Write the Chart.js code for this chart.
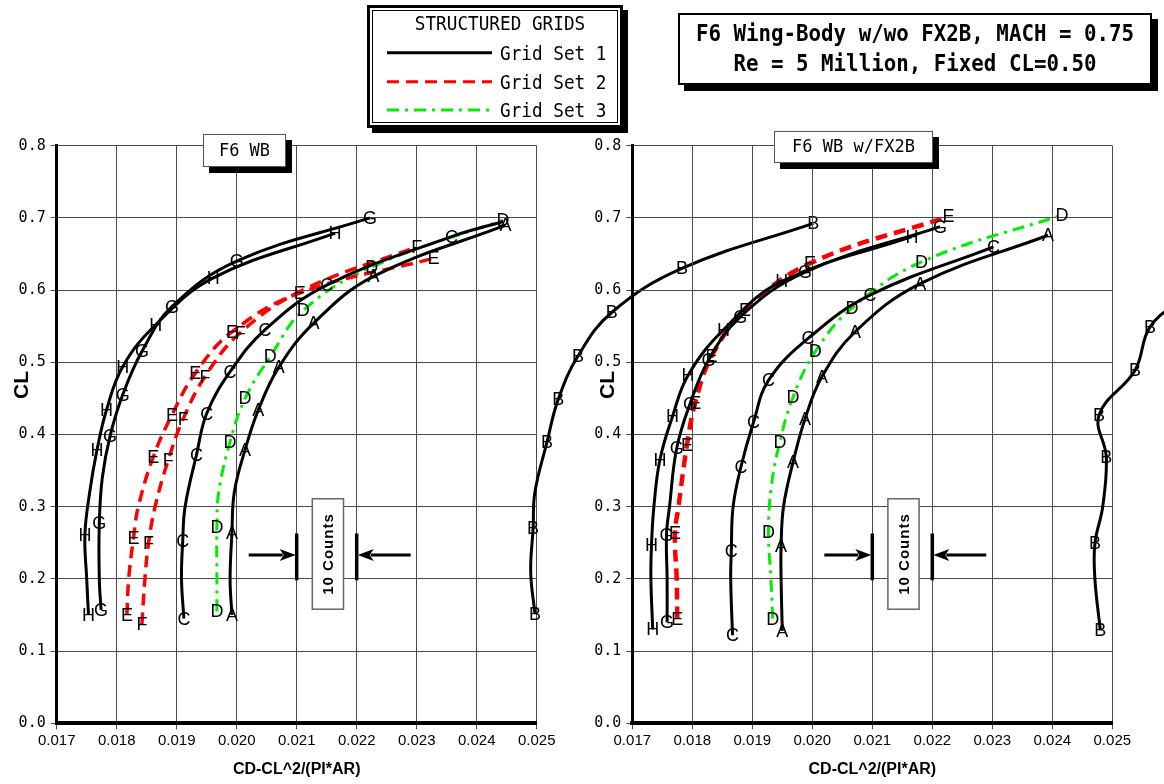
<!DOCTYPE html>
<html><head><meta charset="utf-8">
<script src="https://cdn.jsdelivr.net/npm/chart.js@4.4.1/dist/chart.umd.min.js"></script>
<style>
html,body{margin:0;padding:0;background:#fff;}
#wrap{position:relative;width:1164px;height:784px;overflow:hidden;background:#fff;}
canvas{position:absolute;left:0;top:0;}
.bx{position:absolute;box-sizing:border-box;background:#fff;}
.t{position:absolute;white-space:nowrap;color:#000;font-family:"DejaVu Sans Mono","Liberation Mono",monospace;}
#legend{left:367px;top:5px;width:256px;height:123px;border:3px solid #000;box-shadow:inset 0 0 0 2px #fff,inset 0 0 0 3px #000,5px 5px 0 #000;}
#title{left:678px;top:13px;width:474px;height:72px;border:2px solid #000;box-shadow:6px 6px 0 #000;}
.pl{border:1.5px solid #555;box-shadow:6px 6px 0 #000;text-align:center;font-family:"DejaVu Sans Mono","Liberation Mono",monospace;font-size:17px;color:#000;}
.yt{position:absolute;width:40px;height:26px;line-height:26px;text-align:center;font-family:"Liberation Sans",Arial,sans-serif;font-weight:bold;font-size:21px;transform:rotate(-90deg);color:#000;}
svg{position:absolute;left:0;top:0;}
</style></head>
<body><div id="wrap">
<canvas id="cLeft" width="1164" height="784"></canvas>
<canvas id="cRight" width="1164" height="784"></canvas>
<div class="yt" id="yLeft" style="left:1px;top:372px;"></div>
<div class="yt" id="yRight" style="left:587px;top:372px;"></div>
<div class="bx" id="legend"></div>
<div class="t" id="legTitle" style="left:380px;width:240px;top:12px;text-align:center;font-size:17.7px;line-height:22px;transform:scaleY(1.12);"></div>
<svg id="legSvg" width="1164" height="140"></svg>
<div class="bx" id="title"></div>
<div class="t" id="title1" style="left:678px;width:474px;top:20px;text-align:center;font-size:20.8px;line-height:26px;font-weight:bold;transform:scaleY(1.1);"></div>
<div class="t" id="title2" style="left:678px;width:474px;top:50px;text-align:center;font-size:20.8px;line-height:26px;font-weight:bold;transform:scaleY(1.1);"></div>
<div class="bx pl" id="pLeft" style="left:203px;top:134px;width:83px;height:33px;line-height:30px;"></div>
<div class="bx pl" id="pRight" style="left:774px;top:131px;width:159px;height:32px;line-height:29px;"></div>
</div>
<script>
// ---------- text ----------
const chartTitle = ['F6 Wing-Body w/wo FX2B, MACH = 0.75', 'Re = 5 Million, Fixed CL=0.50'];
const legendTitle = 'STRUCTURED GRIDS';
const gridSets = ['Grid Set 1', 'Grid Set 2', 'Grid Set 3'];
const panelTitles = ['F6 WB', 'F6 WB w/FX2B'];
const xTitle = 'CD-CL^2/(PI*AR)';
const yTitle = 'CL';
const countsText = '10 Counts';
const xTickVals = [0.017, 0.018, 0.019, 0.020, 0.021, 0.022, 0.023, 0.024, 0.025];
const yTickVals = [0.0, 0.1, 0.2, 0.3, 0.4, 0.5, 0.6, 0.7, 0.8];

// ---------- left panel: F6 WB ----------
const wbA_cd = [0.01992,0.01989,0.01992,0.01996,0.02014,0.02036,0.02070,0.02128,0.02228,0.02448];
const wbA_cl = [0.150,0.200,0.263,0.320,0.379,0.434,0.493,0.554,0.619,0.690];
const wbA_lb = ['A','','A','','A','A','A','A','A','A'];
const wbB_cd = [0.02497,0.02490,0.02494,0.02497,0.02517,0.02536,0.02569,0.02625,0.02742,0.02961];
const wbB_cl = [0.152,0.210,0.270,0.320,0.389,0.449,0.509,0.569,0.630,0.6925];
const wbB_lb = ['B','','B','','B','B','B','B','B','B'];
const wbC_cd = [0.01912,0.01908,0.01910,0.01914,0.01933,0.01950,0.01989,0.02047,0.02150,0.02358,0.02444];
const wbC_cl = [0.145,0.200,0.252,0.300,0.372,0.429,0.487,0.545,0.607,0.674,0.695];
const wbC_lb = ['C','','C','','C','C','C','C','C','C',''];
const wbD_cd = [0.01967,0.01967,0.01967,0.01970,0.01989,0.02014,0.02056,0.02111,0.02225,0.02444];
const wbD_cl = [0.155,0.200,0.272,0.320,0.390,0.450,0.508,0.572,0.632,0.697];
const wbD_lb = ['D','','D','','D','D','D','D','D','D'];
const wbE_cd = [0.01817,0.01820,0.01828,0.01836,0.01861,0.01892,0.01931,0.01992,0.02105,0.02328];
const wbE_cl = [0.150,0.200,0.257,0.300,0.369,0.427,0.485,0.542,0.596,0.644];
const wbE_lb = ['E','','E','','E','E','E','E','E','E'];
const wbF_cd = [0.01842,0.01847,0.01853,0.01864,0.01886,0.01911,0.01947,0.02006,0.02110,0.02300];
const wbF_cl = [0.137,0.200,0.249,0.300,0.365,0.422,0.480,0.541,0.600,0.660];
const wbF_lb = ['F','','F','','F','F','F','F','','F'];
const wbG_cd = [0.01774,0.01771,0.01771,0.01776,0.01789,0.01810,0.01842,0.01892,0.02000,0.02222];
const wbG_cl = [0.157,0.200,0.277,0.340,0.398,0.455,0.515,0.577,0.640,0.700];
const wbG_lb = ['G','','G','','G','G','G','G','G','G'];
const wbH_cd = [0.01753,0.01750,0.01747,0.01755,0.01767,0.01783,0.01810,0.01865,0.01961,0.02164];
const wbH_cl = [0.150,0.200,0.261,0.320,0.378,0.434,0.494,0.552,0.617,0.679];
const wbH_lb = ['H','','H','','H','H','H','H','H','H'];

// ---------- right panel: F6 WB w/FX2B ----------
const fxA_cd = [0.01950,0.01948,0.01948,0.01952,0.01968,0.01988,0.02016,0.02071,0.02180,0.02393];
const fxA_cl = [0.128,0.200,0.245,0.300,0.362,0.422,0.480,0.542,0.609,0.676];
const fxA_lb = ['A','','A','','A','A','A','A','A','A'];
const fxB_cd = [0.02480,0.02471,0.02471,0.02484,0.02490,0.02478,0.02538,0.02563,0.02620];
const fxB_cl = [0.129,0.200,0.249,0.300,0.369,0.427,0.489,0.549,0.590];
const fxB_lb = ['B','','B','','B','B','B','B',''];
const fxC_cd = [0.01867,0.01864,0.01865,0.01868,0.01881,0.01902,0.01927,0.01993,0.02096,0.02302];
const fxC_cl = [0.122,0.200,0.238,0.300,0.355,0.417,0.475,0.533,0.593,0.660];
const fxC_lb = ['C','','C','','C','C','C','C','C','C'];
const fxD_cd = [0.01934,0.01931,0.01927,0.01932,0.01946,0.01968,0.02005,0.02066,0.02182,0.02416];
const fxD_cl = [0.145,0.200,0.265,0.330,0.390,0.452,0.515,0.575,0.639,0.704];
const fxD_lb = ['D','','D','','D','D','D','D','D','D'];
const fxE_cd = [0.01775,0.01774,0.01771,0.01777,0.01791,0.01805,0.01832,0.01888,0.01996,0.02227];
const fxE_cl = [0.145,0.200,0.263,0.300,0.385,0.444,0.508,0.572,0.637,0.702];
const fxE_lb = ['E','','E','','E','E','E','E','E','E'];
const fxG_cd = [0.01758,0.01758,0.01757,0.01762,0.01774,0.01796,0.01827,0.01880,0.01988,0.02213];
const fxG_cl = [0.140,0.200,0.261,0.300,0.381,0.442,0.503,0.563,0.625,0.688];
const fxG_lb = ['G','','G','','G','G','G','G','G','G'];
const fxH_cd = [0.01734,0.01731,0.01732,0.01736,0.01746,0.01767,0.01793,0.01852,0.01949,0.02166];
const fxH_cl = [0.130,0.200,0.247,0.300,0.365,0.425,0.482,0.545,0.612,0.674];
const fxH_lb = ['H','','H','','H','H','H','H','H','H'];

// "10 Counts" reference marker (CD and CL values)
const countsBars = [0.021, 0.022];
const countsBarCL = [0.198, 0.263];
const countsArrowFrom = [0.0202, 0.0229];
const countsArrowCL = 0.233;
const countsBoxCD = [0.02126, 0.02178];
const countsBoxCL = [0.158, 0.311];

// ---------- styles ----------
const setStyles = [
  {color: '#000000', dash: [], width: 3},
  {color: '#ff0000', dash: [12, 7], width: 3.5},
  {color: '#00ee00', dash: [12, 6, 3, 6], width: 3}
];

function series(cd, cl, lb, set, w) {
  const s = setStyles[set];
  return {
    label: gridSets[set],
    data: cd.map((x, i) => ({x: x, y: cl[i]})),
    marks: lb,
    showLine: true,
    borderColor: s.color,
    backgroundColor: s.color,
    borderDash: s.dash,
    borderWidth: w || s.width,
    pointRadius: 0,
    tension: 0.4,
    fill: false,
    clip: false
  };
}

const letterPlugin = {
  id: 'letters',
  afterDatasetsDraw(chart) {
    const ctx = chart.ctx;
    ctx.save();
    ctx.font = '18px "Liberation Sans", Arial, sans-serif';
    ctx.fillStyle = '#000';
    ctx.textAlign = 'center';
    ctx.textBaseline = 'middle';
    chart.data.datasets.forEach((ds, i) => {
      const meta = chart.getDatasetMeta(i);
      (ds.marks || []).forEach((m, j) => {
        if (!m) return;
        const el = meta.data[j];
        if (el) ctx.fillText(m, el.x, el.y + 1);
      });
    });
    ctx.restore();
  }
};

const countsPlugin = {
  id: 'counts',
  afterDraw(chart) {
    const ctx = chart.ctx, xs = chart.scales.x, ys = chart.scales.y;
    const xl = xs.getPixelForValue(countsBars[0]), xr = xs.getPixelForValue(countsBars[1]);
    const yb = ys.getPixelForValue(countsBarCL[0]), yt = ys.getPixelForValue(countsBarCL[1]);
    const ya = ys.getPixelForValue(countsArrowCL);
    const a0 = xs.getPixelForValue(countsArrowFrom[0]), a1 = xs.getPixelForValue(countsArrowFrom[1]);
    ctx.save();
    const bx0 = xs.getPixelForValue(countsBoxCD[0]), bx1 = xs.getPixelForValue(countsBoxCD[1]);
    const by0 = ys.getPixelForValue(countsBoxCL[1]), by1 = ys.getPixelForValue(countsBoxCL[0]);
    ctx.fillStyle = '#fff';
    ctx.fillRect(bx0, by0, bx1 - bx0, by1 - by0);
    ctx.strokeStyle = '#666'; ctx.lineWidth = 1.5;
    ctx.strokeRect(bx0, by0, bx1 - bx0, by1 - by0);
    ctx.save();
    ctx.translate((bx0 + bx1) / 2, (by0 + by1) / 2);
    ctx.rotate(-Math.PI / 2);
    ctx.fillStyle = '#000';
    ctx.font = 'bold 15px "Liberation Sans", Arial, sans-serif';
    ctx.textAlign = 'center'; ctx.textBaseline = 'middle';
    try { ctx.letterSpacing = '1px'; } catch (e) {}
    ctx.fillText(countsText, 0, 1);
    ctx.restore();
    ctx.strokeStyle = '#000'; ctx.lineWidth = 3.5;
    ctx.beginPath();
    ctx.moveTo(xl, yt); ctx.lineTo(xl, yb);
    ctx.moveTo(xr, yt); ctx.lineTo(xr, yb);
    ctx.stroke();
    ctx.lineWidth = 3;
    ctx.beginPath();
    ctx.moveTo(a0, ya); ctx.lineTo(xl - 14, ya);
    ctx.moveTo(a1, ya); ctx.lineTo(xr + 14, ya);
    ctx.stroke();
    ctx.fillStyle = '#000';
    ctx.beginPath();
    ctx.moveTo(xl - 1, ya); ctx.lineTo(xl - 17, ya - 6); ctx.lineTo(xl - 13, ya); ctx.lineTo(xl - 17, ya + 6); ctx.closePath();
    ctx.moveTo(xr + 1, ya); ctx.lineTo(xr + 17, ya - 6); ctx.lineTo(xr + 13, ya); ctx.lineTo(xr + 17, ya + 6); ctx.closePath();
    ctx.fill();
    ctx.restore();
  }
};

function makePanel(id, datasets, padLeft, padRight) {
  return new Chart(document.getElementById(id), {
    type: 'scatter',
    data: {datasets: datasets},
    options: {
      responsive: false, animation: false, devicePixelRatio: 1, events: [],
      layout: {padding: {left: padLeft, right: padRight, top: 145.7, bottom: 0}},
      elements: {line: {capBezierPoints: false}, point: {radius: 0}},
      plugins: {legend: {display: false}, tooltip: {enabled: false}},
      scales: {
        x: {
          type: 'linear', min: 0.017, max: 0.025,
          afterBuildTicks: s => { s.ticks = xTickVals.map(v => ({value: v})); },
          afterFit: s => { s.height = 60.7; },
          ticks: {callback: v => Number(v).toFixed(3), font: {family: '"Liberation Sans",Arial,sans-serif', size: 15}, color: '#000', padding: 3, maxRotation: 0, autoSkip: false},
          grid: {color: '#4a4a4a', lineWidth: 1, tickLength: 6, tickColor: '#4a4a4a'},
          border: {color: '#000', width: 4},
          title: {display: true, text: xTitle, color: '#000', font: {family: '"Liberation Sans",Arial,sans-serif', size: 16, weight: 'bold'}, padding: {top: 0, bottom: 5}}
        },
        y: {
          type: 'linear', min: 0, max: 0.8,
          afterBuildTicks: s => { s.ticks = yTickVals.map(v => ({value: v})); },
          afterFit: s => { s.width = 56.7; },
          ticks: {callback: v => Number(v).toFixed(1), font: {family: '"DejaVu Sans Mono","Liberation Mono",monospace', size: 15}, color: '#000', padding: 5, autoSkip: false},
          grid: {color: '#4a4a4a', lineWidth: 1, tickLength: 6, tickColor: '#4a4a4a'},
          border: {color: '#000', width: 3},
          title: {display: false}
        }
      }
    },
    plugins: [letterPlugin, countsPlugin]
  });
}

makePanel('cLeft', [
  series(wbH_cd, wbH_cl, wbH_lb, 0),
  series(wbG_cd, wbG_cl, wbG_lb, 0),
  series(wbC_cd, wbC_cl, wbC_lb, 0),
  series(wbA_cd, wbA_cl, wbA_lb, 0),
  series(wbB_cd, wbB_cl, wbB_lb, 0),
  series(wbE_cd, wbE_cl, wbE_lb, 1),
  series(wbF_cd, wbF_cl, wbF_lb, 1),
  series(wbD_cd, wbD_cl, wbD_lb, 2)
], 0, 627.3);

makePanel('cRight', [
  series(fxH_cd, fxH_cl, fxH_lb, 0),
  series(fxG_cd, fxG_cl, fxG_lb, 0),
  series(fxC_cd, fxC_cl, fxC_lb, 0),
  series(fxA_cd, fxA_cl, fxA_lb, 0),
  series(fxB_cd, fxB_cl, fxB_lb, 0),
  series(fxE_cd, fxE_cl, fxE_lb, 1, 4.5),
  series(fxD_cd, fxD_cl, fxD_lb, 2)
], 575.6, 51.7);

// ---------- HTML legend / titles ----------
document.getElementById('yLeft').textContent = yTitle;
document.getElementById('yRight').textContent = yTitle;
document.getElementById('legTitle').textContent = legendTitle;
document.getElementById('title1').textContent = chartTitle[0];
document.getElementById('title2').textContent = chartTitle[1];
document.getElementById('pLeft').textContent = panelTitles[0];
document.getElementById('pRight').textContent = panelTitles[1];
const legRowsY = [52.7, 81.7, 110];
const svg = document.getElementById('legSvg');
const NS = 'http://www.w3.org/2000/svg';
gridSets.forEach((name, i) => {
  const s = setStyles[i];
  const ln = document.createElementNS(NS, 'line');
  ln.setAttribute('x1', 387); ln.setAttribute('x2', 492);
  ln.setAttribute('y1', legRowsY[i]); ln.setAttribute('y2', legRowsY[i]);
  ln.setAttribute('stroke', s.color); ln.setAttribute('stroke-width', 3);
  if (s.dash.length) ln.setAttribute('stroke-dasharray', s.dash.join(' '));
  svg.appendChild(ln);
  const d = document.createElement('div');
  d.className = 't';
  d.style.cssText = 'left:500px;top:' + (legRowsY[i] - 11) + 'px;font-size:17.7px;line-height:22px;transform:scaleY(1.12);';
  d.textContent = name;
  document.getElementById('wrap').appendChild(d);
});
</script>
</body></html>
